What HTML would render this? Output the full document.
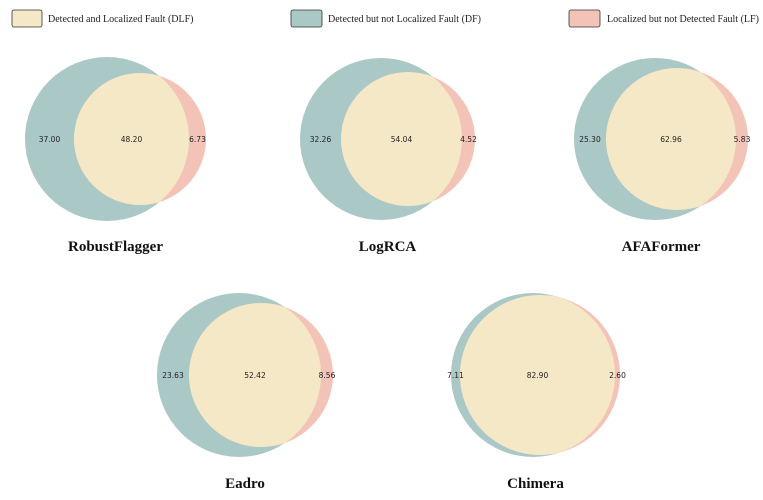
<!DOCTYPE html>
<html><head><meta charset="utf-8"><style>
body{margin:0;background:#fff;width:763px;height:500px;overflow:hidden}
svg{display:block}
.lg{font-family:"Liberation Serif",serif;font-size:10px;fill:#222}
.num{font-family:"DejaVu Sans",sans-serif;font-size:7.5px;fill:#222}
.ttl{font-family:"Liberation Serif",serif;font-size:15px;font-weight:bold;fill:#111}
</style></head><body>
<svg id="chart" width="763" height="500" xmlns="http://www.w3.org/2000/svg">
<g>
<rect x="12" y="10" width="30" height="17" fill="#f5e8c6" stroke="#333" stroke-width="0.8" rx="2"/>
<text class="lg" x="48" y="22">Detected and Localized Fault (DLF)</text>
<rect x="291" y="10" width="31" height="17" fill="#aac8c6" stroke="#333" stroke-width="0.8" rx="2"/>
<text class="lg" x="328" y="22">Detected but not Localized Fault (DF)</text>
<rect x="569" y="10" width="31" height="17" fill="#f4c3b8" stroke="#333" stroke-width="0.8" rx="2"/>
<text class="lg" x="607" y="22">Localized but not Detected Fault (LF)</text>
</g>
<g id="venns"></g>
</svg>
<script>
const names=["RobustFlagger","LogRCA","AFAFormer","Eadro","Chimera"];
const dfValues=[37.00,32.26,25.30,23.63,7.11];
const dlfValues=[48.20,54.04,62.96,52.42,82.90];
const lfValues=[6.73,4.52,5.83,8.56,2.60];
// layout (not data)
const layout=[
 {bx:107,by:139,br:82,sx:140,sr:66,ty:251},
 {bx:381,by:139,br:81,sx:408,sr:67,ty:251},
 {bx:655,by:139,br:81,sx:677,sr:71,ty:251},
 {bx:239,by:375,br:82,sx:261,sr:72,ty:488},
 {bx:533,by:375,br:82,sx:540,sr:80,ty:488}
];
const NS="http://www.w3.org/2000/svg";
const root=document.getElementById("venns");
function mk(t,a){const e=document.createElementNS(NS,t);for(const k in a)e.setAttribute(k,a[k]);return e;}
names.forEach((n,i)=>{
 const L=layout[i];const key=n.toLowerCase();
 const g=mk("g",{});
 
 
 const cp=mk("clipPath",{id:"cp"+i});cp.appendChild(mk("circle",{cx:L.bx,cy:L.by,r:L.br}));g.appendChild(cp);
 const big=mk("circle",{cx:L.bx,cy:L.by,r:L.br,fill:"#aac8c6"});
 
 
 g.appendChild(big);
 const sm=mk("circle",{cx:L.sx,cy:L.by,r:L.sr,fill:"#f4c3b8"});
 
 
 g.appendChild(sm);
 const inter=mk("circle",{cx:L.sx,cy:L.by,r:L.sr,fill:"#f5e8c6","clip-path":"url(#cp"+i+")"});
 
 
 g.appendChild(inter);
 const left=L.bx-L.br, sl=L.sx-L.sr, br=L.bx+L.br, sr=L.sx+L.sr;
 const pts=[[(left+sl)/2,dfValues[i],'df-value'],[(sl+br)/2,dlfValues[i],'dlf-value'],[(br+sr)/2,lfValues[i],'lf-value']];
 pts.forEach(p=>{
  const t=mk("text",{x:p[0],y:L.by+3,"text-anchor":"middle",class:"num"});
  
  
  t.textContent=p[1].toFixed(2);g.appendChild(t);
 });
 const tt=mk("text",{x:L.bx+(L.sx-L.bx)/2+ (L.sr-L.br)/2+ (L.sx+L.sr-(L.bx-L.br))/2 - (L.sx-L.bx)/2 - (L.sr-L.br)/2 + (L.bx-L.br) - L.bx + (L.bx) - (L.bx-L.br) + (L.bx-L.br) - (L.bx-L.br) ,y:L.ty,"text-anchor":"middle",class:"ttl"});
 tt.setAttribute('x',((L.bx-L.br)+(L.sx+L.sr))/2);
 
 
 tt.textContent=n;g.appendChild(tt);
 root.appendChild(g);
});
</script>
</body></html>
